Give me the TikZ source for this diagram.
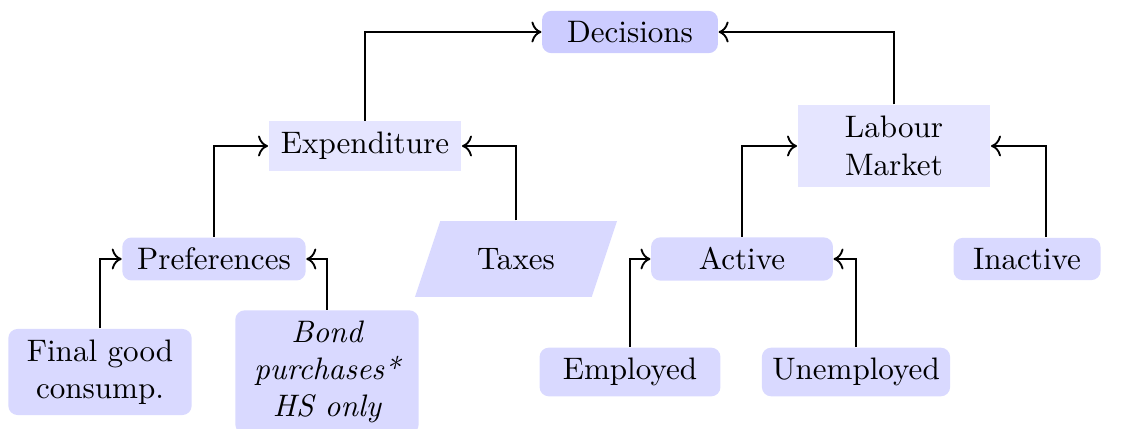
\documentclass[tikz,border=0pt]{standalone}
\usepackage{amsmath, amssymb, tikz}
\usetikzlibrary{shapes.geometric, arrows.meta}

\begin{document}
\begin{tikzpicture}[x=0.0113cm, y=-0.0113cm,
    topbox/.style={rectangle, rounded corners=3pt, fill=blue!20, minimum width=56.6pt, minimum height=13.5pt},
    midbox/.style={rectangle, fill=blue!10, minimum width=62pt, align=center},
    leafbox/.style={rectangle, rounded corners=3pt, fill=blue!15, minimum width=59pt, minimum height=13.5pt, align=center},
    link/.style={-{To[scale=1.1]}, semithick}]
        \useasboundingbox (0,0) rectangle (1129,429);
        % top
        \node[topbox] (decisions) at (630,32) {Decisions};
        % second level
        \node[midbox, minimum height=16pt] (expenditure) at (365,146) {Expenditure};
        \node[midbox, minimum height=26.4pt] (labour) at (894,146) {Labour\\Market};
        % third level
        \node[leafbox] (preferences) at (214,259) {Preferences};
        \node[trapezium, trapezium left angle=59, trapezium right angle=121, fill=blue!15,
              minimum width=65pt, minimum height=24.4pt, trapezium stretches body] (taxes) at (516,259) {Taxes};
        \node[leafbox, minimum width=58.5pt] (active) at (742,259) {Active};
        \node[leafbox, minimum width=47.3pt] (inactive) at (1027,259) {Inactive};
        % bottom
        \node[leafbox, minimum height=27.7pt] (finalgood) at (100,372) {Final good\\consump.};
        \node[leafbox, font=\itshape] (bond) at (327,372) {Bond\\purchases*\\HS only};
        \node[leafbox, minimum height=15.4pt, minimum width=58.2pt] (employed) at (630,372) {Employed};
        \node[leafbox, minimum height=15.4pt, minimum width=58pt] (unemployed) at (856,372) {Unemployed};

        \draw[link] (expenditure.north) |- (decisions.west);
        \draw[link] (labour.north) |- (decisions.east);
        \draw[link] (preferences.north) |- (expenditure.west);
        \draw[link] (taxes.north) |- (expenditure.east);
        \draw[link] (active.north) |- (labour.west);
        \draw[link] ([xshift=6.1pt]inactive.north) |- (labour.east);
        \draw[link] (finalgood.north) |- (preferences.west);
        \draw[link] (bond.north) |- (preferences.east);
        \draw[link] (employed.north) |- (active.west);
        \draw[link] (unemployed.north) |- (active.east);
    \end{tikzpicture}
\end{document}
